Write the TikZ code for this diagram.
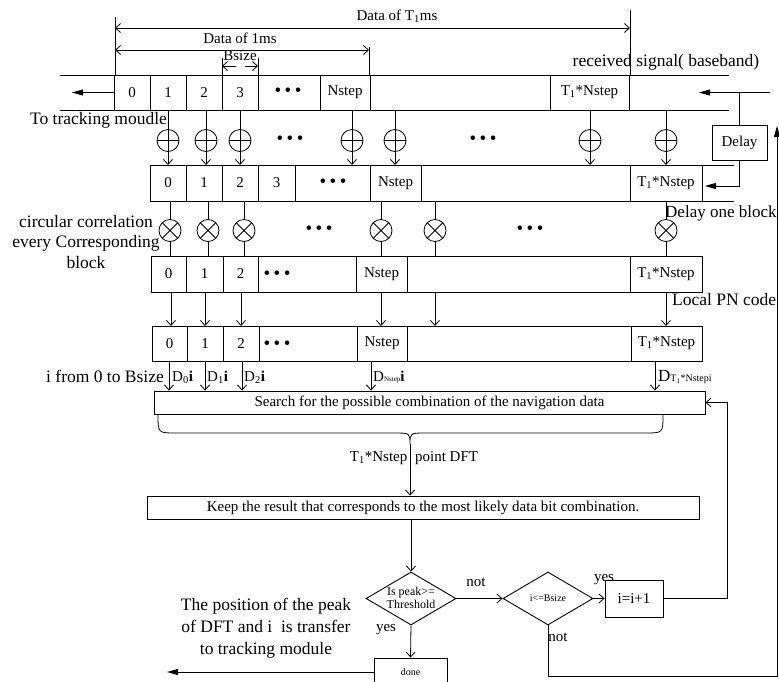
\documentclass[tikz,border=0pt]{standalone}
\usepackage{fontspec}
\setmainfont{Liberation Serif}
\usetikzlibrary{arrows.meta,shapes.geometric}
\newcommand\szA{\fontsize{15}{17}\selectfont}
\newcommand\szB{\fontsize{17.5}{20.5}\selectfont}
\newcommand\szS{\fontsize{12}{13.5}\selectfont}
\newcommand\szT{\fontsize{10}{12}\selectfont}
\newcommand\Tone{T\textsubscript{1}}
\newcommand\bul{\textbullet\hspace{3.5pt}\textbullet\hspace{3.5pt}\textbullet}
\tikzset{
 ln/.style={line width=0.8pt},
 cellbox/.style={draw, line width=0.9pt, inner sep=0pt, font=\szA},
 varrow/.style={-{Straight Barb[length=5pt,width=9pt]}, line width=0.8pt},
 dimarrow/.style={{Straight Barb[length=5pt,width=9pt]}-{Straight Barb[length=5pt,width=9pt]}, line width=0.8pt},
 bigarrow/.style={-{Triangle[length=11pt,width=6pt]}, line width=0.8pt},
 adder/.style={circle, draw, minimum size=22pt, inner sep=0pt, line width=0.8pt,
   path picture={\draw[line width=0.8pt] (path picture bounding box.west) -- (path picture bounding box.east);}},
 mult/.style={circle, draw, minimum size=22pt, inner sep=0pt, line width=0.8pt,
   path picture={\draw[line width=0.8pt] (path picture bounding box.north west) -- (path picture bounding box.south east)
     (path picture bounding box.north east) -- (path picture bounding box.south west);}},
 lbl/.style={inner sep=0pt, font=\szB},
 txt/.style={inner sep=0pt, font=\szA},
 dotsn/.style={inner sep=0pt, font=\fontsize{19}{20}\selectfont},
 flow/.style={draw, line width=0.9pt, inner sep=0pt},
 dia/.style={diamond, draw, line width=0.9pt, inner sep=0pt, minimum width=90pt, minimum height=53pt},
}
\begin{document}
\begin{tikzpicture}[x=1pt,y=-1pt]
\useasboundingbox (0,0) rectangle (779,681);
\clip (0,0) rectangle (779,681);
% row reference coordinates
\coordinate (r1top) at (0,75);  \coordinate (r1bot) at (0,110);
\coordinate (r2top) at (0,165); \coordinate (r2bot) at (0,201);
\coordinate (r3top) at (0,256); \coordinate (r3bot) at (0,292);
\coordinate (r4top) at (0,326); \coordinate (r4bot) at (0,361);

% ---- dimension lines ----
\draw[ln] (115,17) -- (115,75) (630,10) -- (630,75) (369,47) -- (369,75)
          (222,58) -- (222,75) (258,58) -- (258,75);
\draw[dimarrow] (115,28) -- (630,28);
\draw[dimarrow] (115,50) -- (369,50);
\draw[varrow] (236,66) -- (222,66);
\draw[varrow] (245,66) -- (258,66);
\node[txt] (tT) at (397,16) {Data of \Tone ms};
\node[txt] (t1ms) at (240,38) {Data of 1ms};
\node[txt] (tbs) at (240,56) {Bsize};
\node[lbl] (trecv) at (666,62) {received signal( baseband)};

% ---- row 1 ----
\draw[ln] (60,75) -- (729,75) (60,110) -- (729,110);
\begin{scope}[every node/.append style={minimum height=35pt}]
\node[cellbox, minimum width=36pt] (r1c0) at (132,92.5) {0};
\node[cellbox, minimum width=36pt] (r1c1) at (168,92.5) {1};
\node[cellbox, minimum width=36pt] (r1c2) at (204,92.5) {2};
\node[cellbox, minimum width=36pt] (r1c3) at (240,92.5) {3};
\node[cellbox, minimum width=50pt] (r1cn) at (345,92.5) {Nstep};
\node[cellbox, minimum width=79pt] (r1ct) at (589.5,92.5) {\Tone*Nstep};
\end{scope}
\node[dotsn] (r1d) at (288,92.5) {\bul};
\coordinate (out1) at (72,92.5);
\draw[bigarrow] (r1c0.west) -- (out1);
\coordinate (in1) at (770,92.5);
\coordinate (in1e) at (699,92.5);
\draw[bigarrow] (in1) -- (in1e);
\node[lbl] (ttrack) at (98.5,120) {To tracking moudle};

% ---- delay ----
\node[flow, minimum width=55pt, minimum height=35pt, font=\szA] (delay) at (739.5,142.5) {Delay};
\draw[ln] (delay.north) -- (delay.north |- in1);
\coordinate (dl) at (705,186);
\draw[bigarrow] (delay.south) |- (dl);
\node[inner sep=0pt, font=\fontsize{17}{20}\selectfont, anchor=west] (tdelay) at (665,213) {Delay one block};

% ---- adders ----
\foreach \x [count=\i] in {168,206,240,352,395,590,666}
  \node[adder] (a\i) at (\x,140.5) {};
\foreach \i in {1,...,7}
  \draw[varrow] (a\i |- r1bot) -- (a\i |- r2top);
\node[dotsn] (ad1) at (290,140) {\bul};
\node[dotsn] (ad2) at (483,140) {\bul};

% ---- row 2 ----
\draw[ln] (150,165) -- (734,165) (150,201) -- (734,201);
\begin{scope}[every node/.append style={minimum height=36pt}]
\node[cellbox, minimum width=36pt] (r2c0) at (168,183) {0};
\node[cellbox, minimum width=36pt] (r2c1) at (204,183) {1};
\node[cellbox, minimum width=36pt] (r2c2) at (240,183) {2};
\node[cellbox, minimum width=37pt] (r2c3) at (276.5,183) {3};
\node[cellbox, minimum width=51pt] (r2cn) at (395.5,183) {Nstep};
\node[cellbox, minimum width=72pt] (r2ct) at (666,183) {\Tone*Nstep};
\end{scope}
\node[dotsn] (r2d) at (333,183) {\bul};

% ---- multipliers ----
\foreach \x [count=\i] in {170,208,244,381,435,666}
  \node[mult] (m\i) at (\x,230.5) {};
\foreach \i in {1,...,6}
  \draw[ln] (m\i.north |- r2bot) -- (m\i.north) (m\i.south) -- (m\i.south |- r3top);
\node[dotsn] (md1) at (319,230) {\bul};
\node[dotsn] (md2) at (530,230) {\bul};
\node[lbl, align=center] (tcirc) at (86,242) {circular correlation\\every Corresponding\\block};

% ---- row 3 ----
\draw[ln] (151,256) rectangle (702,292);
\begin{scope}[every node/.append style={minimum height=36pt}]
\node[cellbox, minimum width=35pt] (r3c0) at (168.5,274) {0};
\node[cellbox, minimum width=37pt] (r3c1) at (204.5,274) {1};
\node[cellbox, minimum width=35pt] (r3c2) at (240.5,274) {2};
\node[cellbox, minimum width=51pt] (r3cn) at (381.5,274) {Nstep};
\node[cellbox, minimum width=72pt] (r3ct) at (666,274) {\Tone*Nstep};
\end{scope}
\node[dotsn] (r3d) at (277,275) {\bul};
\node[lbl, anchor=west] (tpn) at (672,300) {Local PN code};

% row3 -> row4 arrows
\foreach \x [count=\i] in {171,205,241,381,435,666}
  \coordinate (k\i) at (\x,0);
\foreach \i in {1,...,6}
  \draw[varrow] (k\i |- r3bot) -- (k\i |- r4top);

% ---- row 4 ----
\draw[ln] (152,326) rectangle (702,361);
\begin{scope}[every node/.append style={minimum height=35pt}]
\node[cellbox, minimum width=35pt] (r4c0) at (169.5,343.5) {0};
\node[cellbox, minimum width=36pt] (r4c1) at (205,343.5) {1};
\node[cellbox, minimum width=36pt] (r4c2) at (241,343.5) {2};
\node[cellbox, minimum width=50pt] (r4cn) at (382,343.5) {Nstep};
\node[cellbox, minimum width=71pt] (r4ct) at (666.5,343.5) {\Tone*Nstep};
\end{scope}
\node[dotsn] (r4d) at (277,345) {\bul};

% ---- search box ----
\node[flow, minimum width=551pt, minimum height=23pt, font=\szA] (search) at (429.5,402.5)
  {Search for the possible combination of the navigation data};
\foreach \x [count=\i] in {169,205,242,371,655}
  \coordinate (s\i) at (\x,0);
\foreach \i in {1,...,5}
  \draw[varrow] (s\i |- r4bot) -- (s\i |- search.north);
\node[lbl] (tifrom) at (105,376) {i from 0 to Bsize};
\node[txt, anchor=west] (D0) at (172,377) {D\textsubscript{0}\textbf{i}};
\node[txt, anchor=west] (D1) at (207,377) {D\textsubscript{1}\textbf{i}};
\node[txt, anchor=west] (D2) at (244,377) {D\textsubscript{2}\textbf{i}};
\node[txt, anchor=west] (DN) at (373,377) {D{\fontsize{7}{8}\selectfont Nstep}\textbf{i}};
\node[txt, anchor=west] (DT) at (658,377) {{\fontsize{17}{18}\selectfont D}{\fontsize{10}{11}\selectfont T\textsubscript{1}*Nstepi}};

% ---- brace ----
\coordinate (bL) at (158,415);
\coordinate (bR) at (663,415);
\coordinate (tip) at (410,444);
\draw[ln] (bL) .. controls (158,433) .. (176,433) -- (394,433) .. controls (410,433) .. (tip)
          .. controls (410,433) .. (426,433) -- (645,433) .. controls (663,433) .. (bR);
\node[txt] (tdft) at (414,458) {\Tone*Nstep\hspace{4pt} point DFT};

% ---- keep box ----
\node[flow, minimum width=552pt, minimum height=23pt, font=\szA] (keep) at (423,507.5)
  {Keep the result that corresponds to the most likely data bit combination.};
\draw[varrow] (tip) -- (tip |- keep.north);

% ---- decisions ----
\node[dia] (d1) at (411,598.5) {};
\node[inner sep=0pt, font=\szS, align=center] (d1t) at (411,598) {Is peak>=\\Threshold};
\node[dia] (d2) at (548,598.5) {};
\node[inner sep=0pt, font=\szT] (d2t) at (548,598) {i<=Bsize};
\node[flow, minimum width=58pt, minimum height=37pt, font=\szA] (inc) at (634,598.5) {i=i+1};
\node[flow, minimum width=73pt, minimum height=28pt, font=\szT] (done) at (410.5,672) {done};

\draw[varrow] (d1 |- keep.south) -- (d1.north);
\draw[varrow] (d1.east) -- (d2.west);
\draw[varrow] (d2.east) -- (inc.west);
\draw[varrow] (d1.south) -- (done.north);
\coordinate (lp1) at (727,402.5);
\draw[varrow] (inc.east) -| (lp1) -- (search.east);
\coordinate (lp2) at (777,676);
\coordinate (lp3) at (777,126);
\draw[bigarrow] (d2.south) |- (lp2) -- (lp3);
\coordinate (out2) at (167,672);
\draw[bigarrow] (done.west) -- (out2);

\node[txt] (tnot1) at (476,582) {not};
\node[txt] (tyes1) at (386,630) {yes};
\node[txt] (tnot2) at (558,637) {not};
\node[txt] (tyes2) at (604,580) {yes};
\node[lbl, align=center, font=\fontsize{17.5}{22}\selectfont] (tpos) at (266,628)
  {The position of the peak\\of DFT and i\ \ is transfer\\to tracking module};
\end{tikzpicture}
\end{document}
